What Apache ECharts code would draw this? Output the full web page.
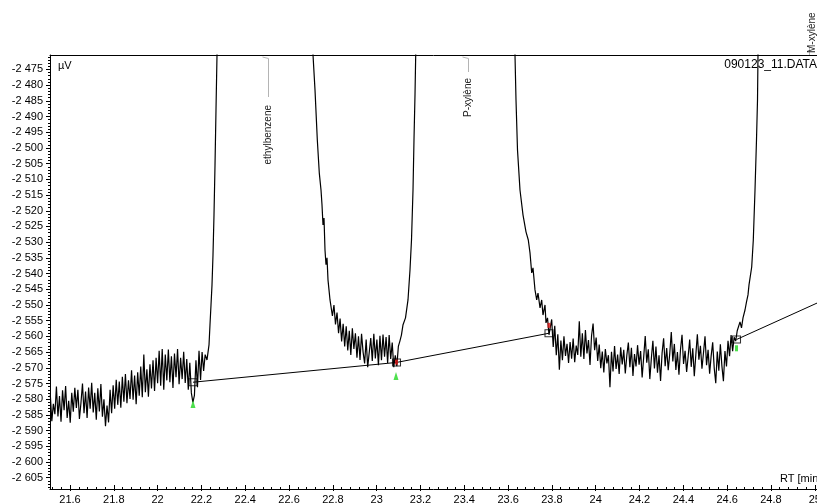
<!DOCTYPE html>
<html>
<head>
<meta charset="utf-8">
<title>090123_11.DATA</title>
<script src="https://cdn.jsdelivr.net/npm/echarts@6/dist/echarts.min.js"></script>
<style>
  html, body { margin: 0; padding: 0; background: #fff; }
  #chart { width: 817px; height: 504px; }
</style>
</head>
<body>
<div id="chart"></div>
<script>
// Detector signal (µV) against retention time RT (min); the flat stretches
// between peaks are sampled every 0.007 min.
const sampleStep = 0.007;

// Baseline before ethylbenzene
const leadStart = 21.510;
const leadSignal = [
  -2578.5, -2587.0, -2581.5, -2584.8, -2576.0, -2585.5, -2579.0, -2587.2, -2577.2, -2583.5,
  -2575.8, -2586.0, -2580.5, -2587.5, -2578.0, -2584.0, -2576.4, -2582.8, -2577.0, -2586.3,
  -2581.2, -2575.0, -2584.5, -2577.6, -2586.0, -2576.3, -2583.0, -2574.8, -2584.2, -2578.0,
  -2586.5, -2576.5, -2583.9, -2575.2, -2585.6, -2580.0, -2588.6, -2582.0, -2587.4, -2577.0,
  -2584.5, -2575.6, -2583.0, -2573.8, -2581.8, -2574.4, -2582.7, -2572.9, -2580.8, -2572.0,
  -2581.3, -2574.0, -2579.9, -2570.8, -2580.2, -2572.5, -2581.6, -2571.4, -2578.9, -2569.6,
  -2579.4, -2565.8, -2577.8, -2570.5, -2579.2, -2568.9, -2576.6, -2567.6, -2577.4, -2566.8,
  -2574.9, -2564.6, -2575.7, -2564.0, -2577.0, -2565.8, -2574.0, -2564.2, -2574.6, -2566.3,
  -2576.4, -2565.5, -2573.0, -2564.0, -2575.2, -2566.8, -2573.6, -2564.9, -2574.8, -2567.2,
  -2577.0, -2568.4, -2578.0, -2581.0, -2578.8, -2567.6, -2576.2, -2564.6, -2573.9, -2565.0,
  -2571.0, -2565.8
];

// Ethylbenzene peak: rising flank, off-scale apex, falling flank
const ethylbenzeneTrace = [
  [22.2254, -2567.5], [22.2346, -2562.7], [22.2391, -2556.3], [22.2437, -2550.0],
  [22.2483, -2543.6], [22.2528, -2534.1], [22.2574, -2521.3], [22.2620, -2505.4],
  [22.2665, -2487.9], [22.2711, -2470.4], [22.4765, -1500.0], [22.7094, -2470.4],
  [22.7185, -2481.5], [22.7290, -2497.4], [22.7381, -2508.0], [22.7459, -2513.4],
  [22.7504, -2518.1], [22.7550, -2524.5], [22.7596, -2522.3], [22.7641, -2532.5],
  [22.7687, -2537.2], [22.7733, -2535.0], [22.7778, -2542.0], [22.7824, -2545.2],
  [22.7870, -2548.4]
];

// Valley between ethylbenzene and P-xylène
const valley1Start = 22.791;
const valley1Signal = [
  -2549.0, -2553.5, -2550.0, -2556.2, -2552.4, -2559.0, -2554.3, -2561.6, -2556.0, -2563.2,
  -2556.8, -2564.5, -2558.2, -2565.9, -2557.4, -2564.0, -2559.0, -2566.8, -2560.0, -2567.5,
  -2559.2, -2565.0, -2568.6, -2561.0, -2569.8, -2570.2, -2560.5, -2567.8, -2559.2, -2567.0,
  -2561.0, -2569.2, -2559.8, -2567.6, -2559.4, -2566.5, -2560.2, -2568.5, -2559.6, -2567.2,
  -2562.0, -2569.8, -2566.0, -2569.5, -2563.2, -2561.5, -2559.6, -2556.4
];

// P-xylène peak
const pXyleneTrace = [
  [23.1316, -2554.1], [23.1430, -2548.4], [23.1522, -2538.8], [23.1590, -2529.3],
  [23.1659, -2513.4], [23.1704, -2497.4], [23.1750, -2483.1], [23.1782, -2470.4],
  [23.3896, -1500.0], [23.6315, -2470.4], [23.6361, -2484.7], [23.6429, -2500.6],
  [23.6543, -2513.4], [23.6680, -2521.3], [23.6817, -2526.7], [23.6922, -2529.3],
  [23.7000, -2533.4], [23.7078, -2539.8], [23.7137, -2538.2], [23.7228, -2545.2],
  [23.7306, -2548.4], [23.7365, -2546.2], [23.7457, -2550.9], [23.7534, -2548.4],
  [23.7593, -2553.2], [23.7685, -2550.0], [23.7730, -2555.7], [23.7799, -2554.1],
  [23.7867, -2559.5]
];

// Valley between P-xylène and M-xylène
const valley2Start = 23.792;
const valley2Signal = [
  -2560.0, -2554.6, -2563.4, -2556.6, -2566.0, -2559.3, -2570.6, -2561.3, -2567.6, -2560.0,
  -2566.2, -2562.4, -2568.5, -2561.8, -2567.1, -2560.7, -2568.2, -2562.9, -2565.9, -2555.2,
  -2566.5, -2559.0, -2567.2, -2558.0, -2565.4, -2561.2, -2569.1, -2559.8, -2555.9, -2564.4,
  -2560.4, -2567.8, -2562.6, -2570.1, -2564.8, -2571.5, -2564.0, -2568.6, -2566.0, -2576.2,
  -2564.9, -2571.2, -2563.1, -2570.4, -2565.8, -2572.0, -2563.5, -2568.9, -2564.3, -2571.8,
  -2566.1, -2562.0, -2569.8, -2563.6, -2572.6, -2565.6, -2569.6, -2562.8, -2569.0, -2564.7,
  -2573.1, -2566.6, -2559.9, -2568.4, -2564.1, -2573.6, -2567.0, -2561.4, -2570.2, -2563.2,
  -2571.6, -2566.0, -2574.2, -2565.3, -2560.6, -2569.5, -2563.7, -2570.8, -2565.5, -2558.6,
  -2568.0, -2562.4, -2570.7, -2565.0, -2572.2, -2564.2, -2559.5, -2568.8, -2564.6, -2571.3,
  -2566.4, -2561.0, -2569.7, -2563.8, -2572.7, -2565.9, -2559.3, -2567.4, -2563.0, -2570.3,
  -2565.2, -2560.0, -2569.2, -2564.3, -2571.9, -2566.2, -2561.9, -2570.1, -2574.9, -2564.8,
  -2570.9, -2562.5, -2569.4, -2574.3, -2564.7, -2569.6, -2561.4, -2566.3, -2559.6, -2564.7,
  -2560.3, -2561.5, -2558.2
];

// M-xylène peak (apex and tail run past the window)
const mXyleneTrace = [
  [24.6587, -2555.4], [24.6655, -2557.3], [24.6724, -2554.1], [24.6815, -2551.6],
  [24.6884, -2549.0], [24.6952, -2546.8], [24.6998, -2543.6], [24.7043, -2543.0],
  [24.7121, -2537.9], [24.7194, -2529.3], [24.7272, -2513.4], [24.7340, -2497.4],
  [24.7386, -2484.7], [24.7408, -2470.4], [24.9737, -1500.0], [25.2000, -1800.0]
];

// Peak identification
const peakNames = ['ethylbenzene', 'P-xylène', 'M-xylène'];
const peakRT = [22.4765, 23.3896, 24.9737];

// Integration baselines
const baselineRun1 = [[22.1615, -2574.6], [23.0905, -2568.3], [23.7867, -2559.0]];
const baselineRun2 = [[24.6427, -2561.0], [25.0102, -2549.4]];

// Integration event marks
const boundaryMarks = [[22.1615, -2574.6], [23.0905, -2568.3], [23.7867, -2559.0], [24.6427, -2561.0]];
const startMarks = [[22.1615, -2581.5], [23.0882, -2572.6]];
const startMarksSmall = [[24.6427, -2563.8]];
const endMarks = [[23.0905, -2568.2], [23.7867, -2556.5]];

// Axis ticks
const xTickLabels = [21.6, 21.8, 22, 22.2, 22.4, 22.6, 22.8, 23, 23.2, 23.4, 23.6, 23.8, 24, 24.2, 24.4, 24.6, 24.8, 25];
const yTickLabels = [-2475, -2480, -2485, -2490, -2495, -2500, -2505, -2510, -2515, -2520, -2525, -2530, -2535,
  -2540, -2545, -2550, -2555, -2560, -2565, -2570, -2575, -2580, -2585, -2590, -2595, -2600, -2605];

const X_MIN = 21.5087, X_MAX = 25.0102;
const Y_MIN = -2608.6, Y_MAX = -2470.4;
const FONT = '"Liberation Sans", Arial, sans-serif';

function sampled(start, values) {
  return values.map((v, i) => [+(start + i * sampleStep).toFixed(4), v]);
}

const trace = [].concat(
  sampled(leadStart, leadSignal),
  ethylbenzeneTrace,
  sampled(valley1Start, valley1Signal),
  pXyleneTrace,
  sampled(valley2Start, valley2Signal),
  mXyleneTrace
);

const xMinor = [];
for (let k = Math.ceil(X_MIN / 0.04); k * 0.04 <= X_MAX + 1e-9; k++) xMinor.push(+(k * 0.04).toFixed(2));
const yMinor = [];
for (let v = Math.ceil(Y_MIN); v <= Y_MAX; v++) yMinor.push(v);

const black = { color: '#000', width: 1 };
const hidden = { show: false };

function xAxisBase(extra) {
  return Object.assign({
    type: 'value', min: X_MIN, max: X_MAX, position: 'bottom',
    axisLine: { show: false, onZero: false },
    axisTick: hidden, axisLabel: hidden, splitLine: hidden
  }, extra);
}
function yAxisBase(extra) {
  return Object.assign({
    type: 'value', min: Y_MIN, max: Y_MAX, position: 'left',
    axisLine: { show: false, onZero: false },
    axisTick: hidden, axisLabel: hidden, splitLine: hidden
  }, extra);
}

const chart = echarts.init(document.getElementById('chart'), null, { renderer: 'canvas' });

chart.setOption({
  animation: false,
  backgroundColor: '#fff',
  grid: { left: 50, right: 0, top: 55, bottom: 15, containLabel: false, outerBoundsMode: 'none' },
  xAxis: [
    xAxisBase({
      axisLine: { show: true, onZero: false, lineStyle: black },
      axisTick: { show: true, inside: true, length: 4, customValues: xTickLabels, lineStyle: black },
      axisLabel: {
        show: true, customValues: xTickLabels, margin: 5, color: '#000', fontSize: 11, fontFamily: FONT,
        formatter: v => String(parseFloat(Number(v).toFixed(1)))
      }
    }),
    xAxisBase({ axisTick: { show: true, inside: false, length: 2, customValues: xTickLabels, lineStyle: black } }),
    xAxisBase({ axisTick: { show: true, inside: true, length: 2, customValues: xMinor, lineStyle: black } }),
    xAxisBase({ position: 'top', axisLine: { show: true, onZero: false, lineStyle: black } })
  ],
  yAxis: [
    yAxisBase({
      axisLine: { show: true, onZero: false, lineStyle: black },
      axisTick: { show: true, inside: false, length: 4, customValues: yTickLabels, lineStyle: black },
      axisLabel: {
        show: true, customValues: yTickLabels, margin: 7, color: '#000', fontSize: 11, fontFamily: FONT,
        formatter: v => {
          const s = String(Math.abs(Math.round(v)));
          return '-' + s.slice(0, -3) + ' ' + s.slice(-3);
        }
      }
    }),
    yAxisBase({ axisTick: { show: true, inside: false, length: 2, customValues: yMinor, lineStyle: black } })
  ],
  series: [
    {
      name: 'signal', type: 'line', data: trace, showSymbol: false, symbol: 'none',
      lineStyle: { color: '#000', width: 1.2 }, clip: true, silent: true, z: 3
    },
    {
      name: 'baseline 1', type: 'line', data: baselineRun1, showSymbol: false, symbol: 'none',
      lineStyle: { color: '#000', width: 1 }, clip: true, silent: true, z: 4
    },
    {
      name: 'baseline 2', type: 'line', data: baselineRun2, showSymbol: false, symbol: 'none',
      lineStyle: { color: '#000', width: 1 }, clip: true, silent: true, z: 4
    },
    {
      name: 'boundaries', type: 'scatter', data: boundaryMarks, symbol: 'rect', symbolSize: [8, 7],
      itemStyle: { color: 'rgba(0,0,0,0)', borderColor: '#000', borderWidth: 1 }, silent: true, z: 5
    },
    {
      name: 'peak start', type: 'scatter', data: startMarks, symbol: 'triangle', symbolSize: [5, 8],
      itemStyle: { color: '#22d822' }, silent: true, z: 6
    },
    {
      name: 'peak start small', type: 'scatter', data: startMarksSmall, symbol: 'rect', symbolSize: [3, 6],
      itemStyle: { color: '#22d822' }, silent: true, z: 6
    },
    {
      name: 'peak end', type: 'scatter', data: endMarks, symbol: 'rect', symbolSize: [3, 5],
      itemStyle: { color: '#e01818' }, silent: true, z: 6
    }
  ]
});

// Peak names, file name and axis units
const toPx = (rt, v) => chart.convertToPixel({ xAxisIndex: 0, yAxisIndex: 0 }, [rt, v]);
const gridTop = 55;
const leaderColor = '#b4b4b4';
const graphics = [];

function vText(text, x, y, align) {
  return {
    type: 'text', x: x, y: y, rotation: Math.PI / 2, z: 20, silent: true,
    style: {
      text: text, fill: '#222', font: '10px ' + FONT,
      align: align, verticalAlign: 'middle', textAlign: align, textVerticalAlign: 'middle'
    }
  };
}

const leaderDrop = [42, 17];
const textGap = [8, 6];
peakNames.forEach((name, k) => {
  const px = Math.round(toPx(peakRT[k], Y_MAX)[0]) + 0.5;
  if (k < 2) {
    const lx = px + 6;
    const end = gridTop + leaderDrop[k];
    graphics.push({
      type: 'polyline', silent: true, z: 19,
      shape: { points: [[px, gridTop + 2], [lx, gridTop + 3.5], [lx, end]] },
      style: { stroke: leaderColor, lineWidth: 1, fill: null }
    });
    graphics.push(vText(name, lx, end + textGap[k], 'right'));
  } else {
    graphics.push({
      type: 'line', silent: true, z: 19,
      shape: { x1: px, y1: gridTop, x2: px, y2: gridTop - 8 },
      style: { stroke: leaderColor, lineWidth: 1 }
    });
    graphics.push(vText(name, px + 3, gridTop - 2, 'left'));
  }
});

function hText(text, x, y, align, size) {
  return {
    type: 'text', x: x, y: y, z: 20, silent: true,
    style: {
      text: text, fill: '#000', font: size + 'px ' + FONT,
      align: align, verticalAlign: 'middle', textAlign: align, textVerticalAlign: 'middle'
    }
  };
}
graphics.push(hText('µV', 58, 66, 'left', 11));
graphics.push(hText('090123_11.DATA', 817, 65, 'right', 12));
graphics.push(hText('RT [min]', 780, 479, 'left', 11));

chart.setOption({ graphic: graphics });
</script>
</body>
</html>
